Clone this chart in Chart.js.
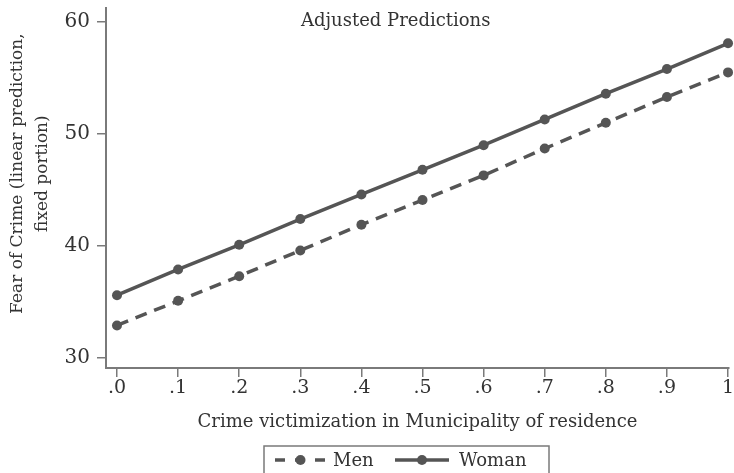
<!DOCTYPE html>
<html>
<head>
<meta charset="utf-8">
<script src="https://cdn.jsdelivr.net/npm/chart.js@4.4.1/dist/chart.umd.min.js"></script>
<style>
  html, body { margin: 0; padding: 0; background: #fff; }
  #wrap { width: 734px; height: 473px; }
</style>
</head>
<body>
<div id="wrap"><canvas id="fearChart"></canvas></div>
<script>
var victimization = [0, 0.1, 0.2, 0.3, 0.4, 0.5, 0.6, 0.7, 0.8, 0.9, 1];
var menFear = [32.9, 35.1, 37.3, 39.6, 41.9, 44.1, 46.3, 48.7, 51.0, 53.3, 55.5];
var womanFear = [35.6, 37.9, 40.1, 42.4, 44.6, 46.8, 49.0, 51.3, 53.6, 55.8, 58.1];
var xTicks = [0, 0.1, 0.2, 0.3, 0.4, 0.5, 0.6, 0.7, 0.8, 0.9, 1];
var yTicks = [30, 40, 50, 60];
var yTitle = ['Fear of Crime (linear prediction,', 'fixed portion)'];

var lineColor = '#555555';
var axisColor = '#7a7a7a';
var textColor = '#333333';
var fontFamily = '"DejaVu Serif", serif';

function toPoints(xs, ys) {
  return xs.map(function(x, i) { return {x: x, y: ys[i]}; });
}

// let the plot run right up to the canvas edge, like the stata graph
function noLabelPadding(scale, sides) {
  sides.forEach(function(side) {
    scale['padding' + side.charAt(0).toUpperCase() + side.slice(1)] = 0;
    if (scale._margins) scale._margins[side] = 0;
  });
}

// title inside the plot, y title a bit above centre, legend box under the x axis title
var extrasPlugin = {
  id: 'extras',
  afterDraw: function(chart) {
    var ctx = chart.ctx;
    var area = chart.chartArea;
    ctx.save();
    ctx.fillStyle = textColor;
    ctx.font = '18px ' + fontFamily;
    ctx.textAlign = 'center';
    ctx.textBaseline = 'middle';
    ctx.fillText('Adjusted Predictions', area.left + area.width * 0.465, area.top + 13);

    ctx.save();
    ctx.translate(0, area.top + area.height * 0.46);
    ctx.rotate(-Math.PI / 2);
    ctx.font = '17px ' + fontFamily;
    ctx.fillText(yTitle[0], 0, 18);
    ctx.fillText(yTitle[1], 0, 43);
    ctx.restore();

    var boxLeft = 264, boxTop = 446, boxW = 285;
    ctx.strokeStyle = axisColor;
    ctx.lineWidth = 1.5;
    ctx.strokeRect(boxLeft, boxTop, boxW, 40);

    var midY = boxTop + 14;
    var items = [
      {label: 'Men', dash: [10, 10], x0: 275, x1: 326, tx: 333},
      {label: 'Woman', dash: [], x0: 395, x1: 449, tx: 459}
    ];
    items.forEach(function(it) {
      ctx.strokeStyle = lineColor;
      ctx.lineWidth = 3.5;
      ctx.setLineDash(it.dash);
      ctx.beginPath();
      ctx.moveTo(it.x0, midY);
      ctx.lineTo(it.x1, midY);
      ctx.stroke();
      ctx.setLineDash([]);
      ctx.fillStyle = lineColor;
      ctx.beginPath();
      ctx.arc((it.x0 + it.x1) / 2, midY, 5, 0, Math.PI * 2);
      ctx.fill();
      ctx.fillStyle = textColor;
      ctx.font = '18px ' + fontFamily;
      ctx.textAlign = 'left';
      ctx.fillText(it.label, it.tx, midY + 1);
    });
    ctx.restore();
  }
};

var chart = new Chart(document.getElementById('fearChart'), {
  type: 'line',
  data: {
    datasets: [{
      label: 'Men',
      data: toPoints(victimization, menFear),
      borderColor: lineColor,
      backgroundColor: lineColor,
      borderWidth: 3.5,
      borderDash: [12, 8],
      pointRadius: 5,
      pointBorderWidth: 0,
      pointBackgroundColor: lineColor,
      clip: false
    }, {
      label: 'Woman',
      data: toPoints(victimization, womanFear),
      borderColor: lineColor,
      backgroundColor: lineColor,
      borderWidth: 3.5,
      pointRadius: 5,
      pointBorderWidth: 0,
      pointBackgroundColor: lineColor,
      clip: false
    }]
  },
  options: {
    responsive: true,
    maintainAspectRatio: false,
    animation: false,
    layout: { padding: { top: 8, right: 0, bottom: 36, left: 0 } },
    plugins: {
      legend: { display: false },
      tooltip: { enabled: false }
    },
    scales: {
      x: {
        type: 'linear',
        min: -0.018,
        max: 1.0016,
        afterBuildTicks: function(scale) {
          scale.ticks = xTicks.map(function(v) { return {value: v}; });
        },
        afterFit: function(scale) {
          scale.height = 69;
          noLabelPadding(scale, ['left', 'right']);
          if (scale._margins) scale.width = scale.chart.width - scale._margins.left;
        },
        border: { color: axisColor, width: 2 },
        grid: { drawOnChartArea: false, drawTicks: true, tickLength: 9, color: axisColor, lineWidth: 1.5 },
        ticks: {
          color: textColor,
          font: { family: fontFamily, size: 19 },
          padding: 0,
          maxRotation: 0,
          callback: function(v) {
            if (v === 1) return '1';
            return '.' + Math.round(v * 10);
          }
        },
        title: {
          display: true,
          text: 'Crime victimization in Municipality of residence',
          color: textColor,
          font: { family: fontFamily, size: 18 },
          padding: { top: 1 }
        }
      },
      y: {
        min: 29.1,
        max: 61.25,
        afterBuildTicks: function(scale) {
          scale.ticks = yTicks.map(function(v) { return {value: v}; });
        },
        afterFit: function(scale) {
          scale.width = 106;
          noLabelPadding(scale, ['top', 'bottom']);
        },
        border: { color: axisColor, width: 2 },
        grid: { drawOnChartArea: false, drawTicks: true, tickLength: 9, color: axisColor, lineWidth: 1.5 },
        ticks: {
          color: textColor,
          font: { family: fontFamily, size: 20 },
          padding: 7
        },
        title: { display: false }
      }
    }
  },
  plugins: [extrasPlugin]
});
</script>
</body>
</html>
